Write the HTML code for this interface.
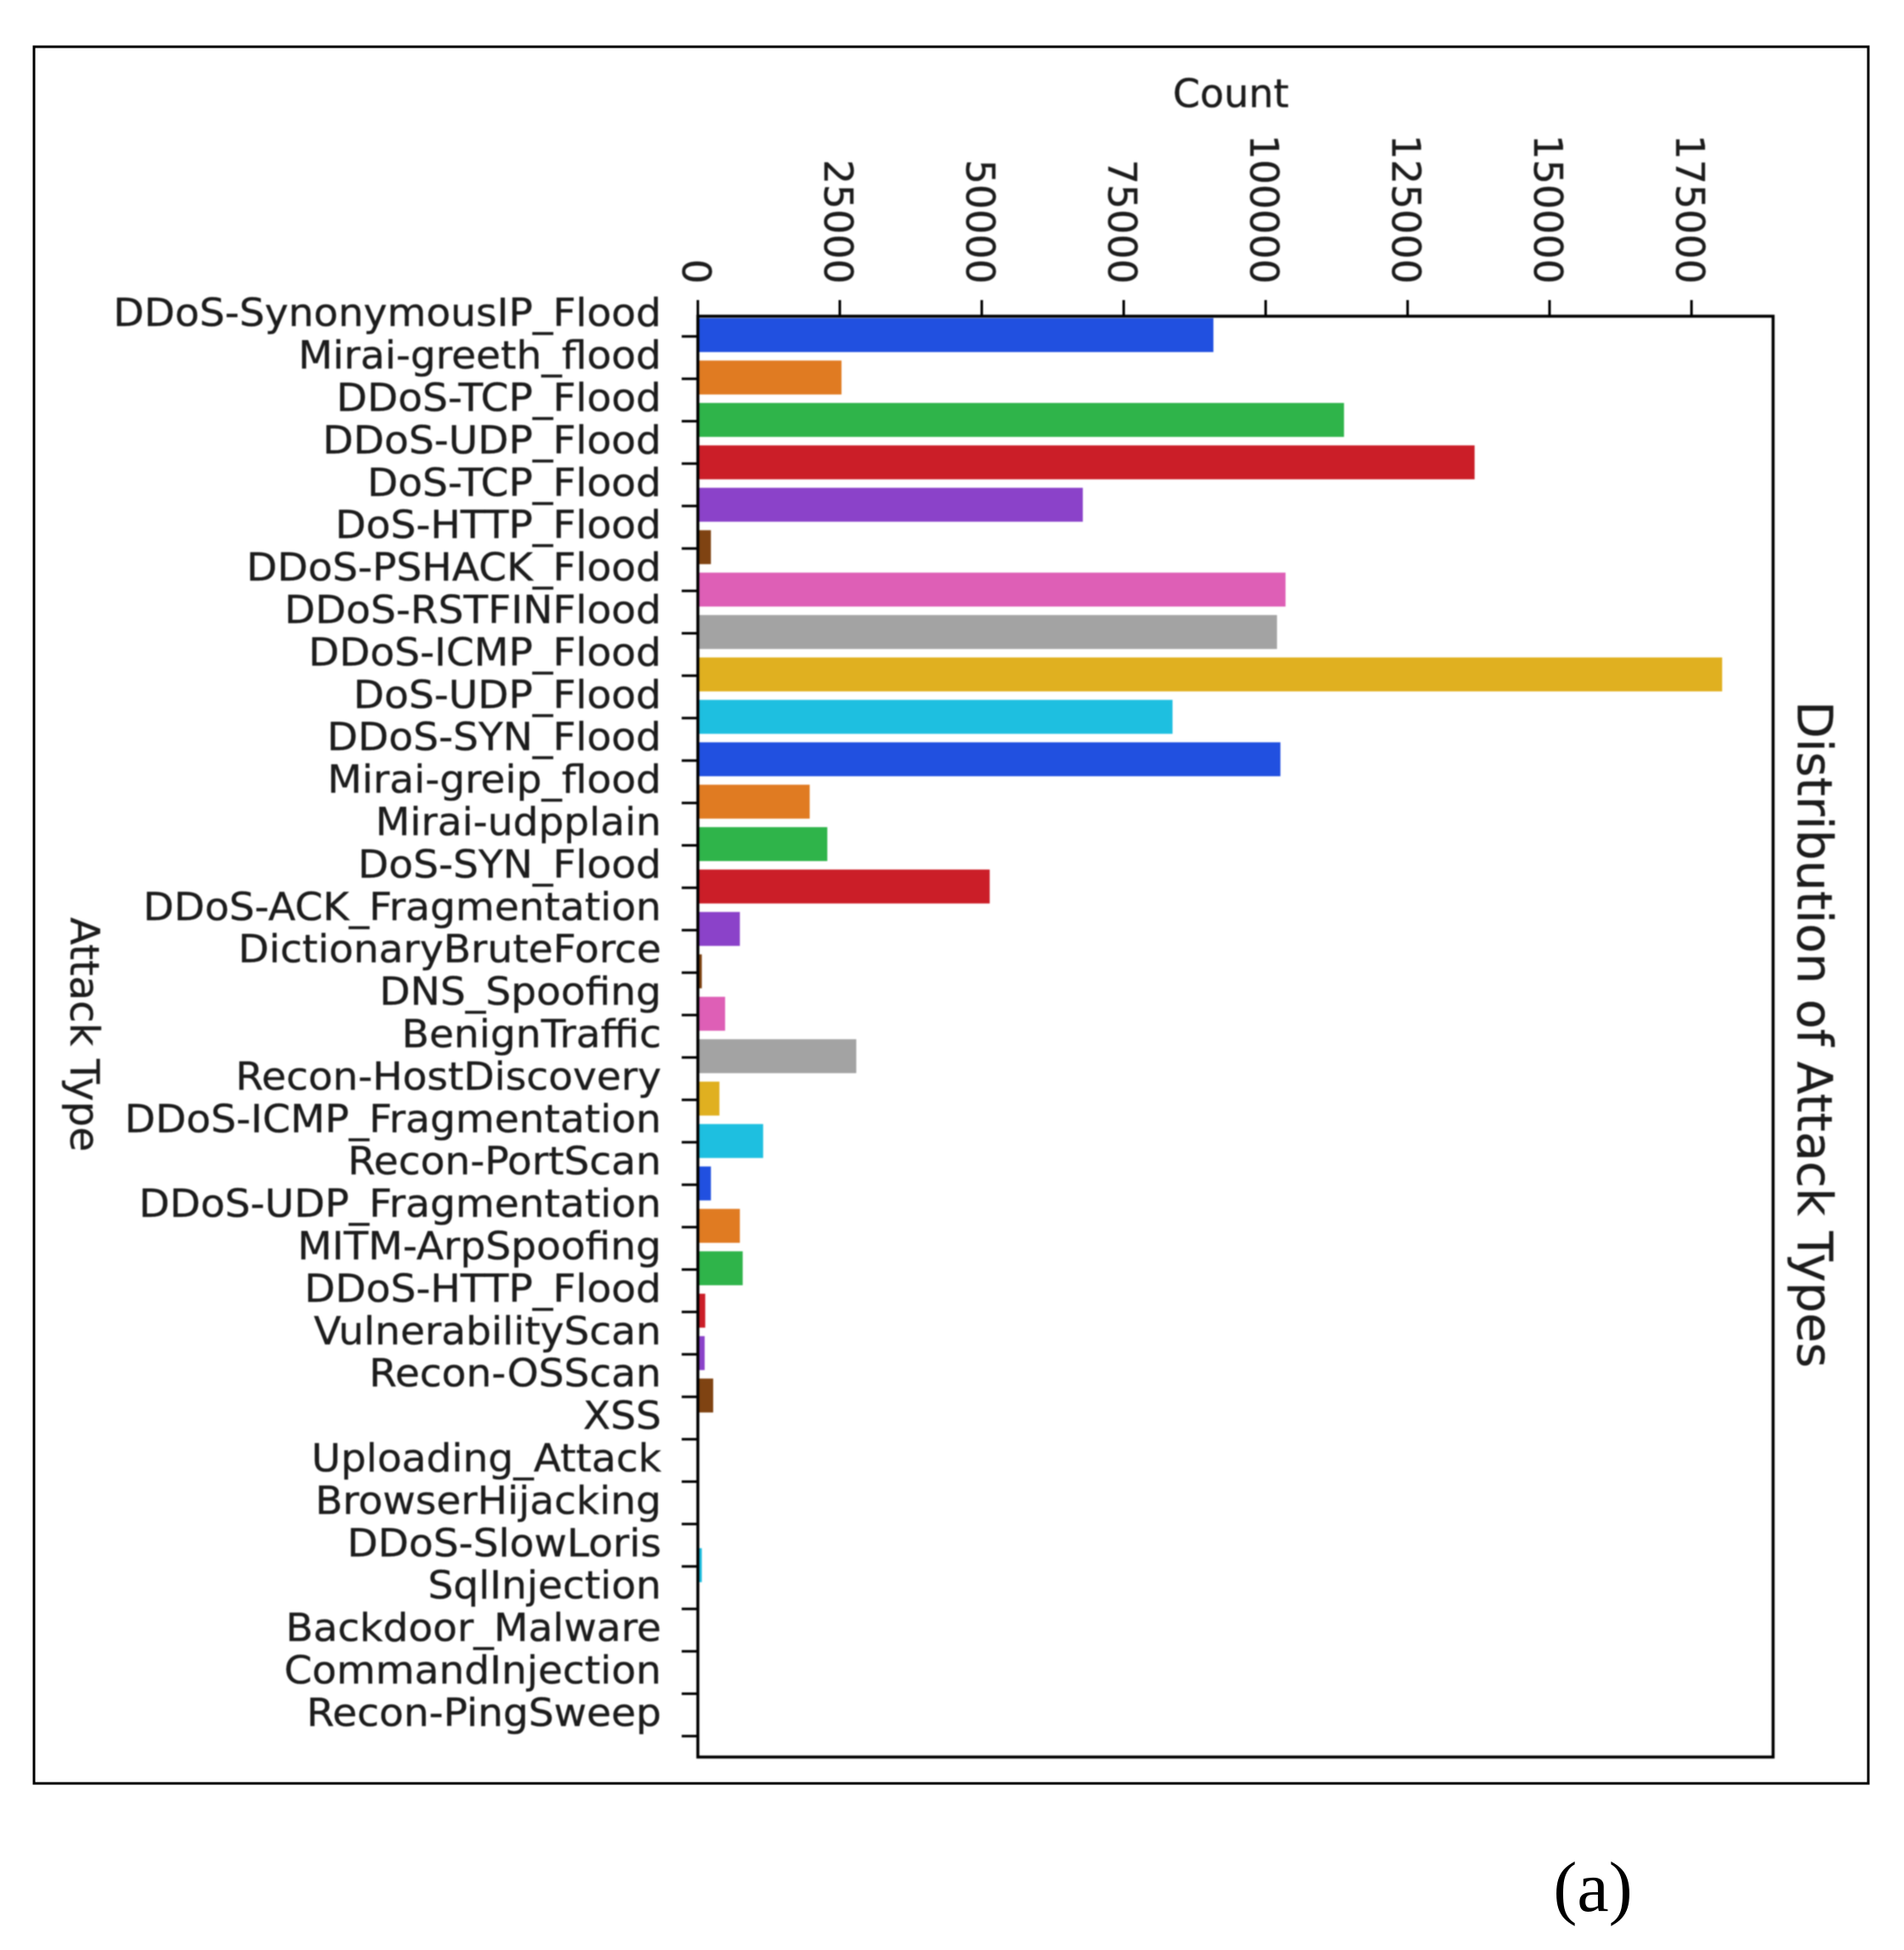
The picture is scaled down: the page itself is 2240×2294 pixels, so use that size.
<!DOCTYPE html>
<html lang="en">
<head>
<meta charset="utf-8">
<title>Distribution of Attack Types</title>
<style>
html,body{margin:0;padding:0;background:#fff}
svg{display:block}
text{font-family:"DejaVu Sans",sans-serif;fill:#1c1c1c;stroke:#1c1c1c;stroke-width:0.35px}
</style>
</head>
<body>
<svg id="chart" xmlns="http://www.w3.org/2000/svg" width="2240" height="2294" viewBox="0 0 2240 2294">
<rect x="0" y="0" width="2240" height="2294" fill="#fff"/>
<rect x="40" y="55" width="2158" height="2043" fill="none" stroke="#000" stroke-width="3"/>
<g id="plot" style="filter:blur(0.7px)"></g>
<text x="1874" y="2248" text-anchor="middle" style="font-family:'Liberation Serif',serif;font-size:84px;fill:#000;stroke:none">(a)</text>
</svg>
<script>
const categories = ["DDoS-SynonymousIP_Flood","Mirai-greeth_flood","DDoS-TCP_Flood","DDoS-UDP_Flood","DoS-TCP_Flood","DoS-HTTP_Flood","DDoS-PSHACK_Flood","DDoS-RSTFINFlood","DDoS-ICMP_Flood","DoS-UDP_Flood","DDoS-SYN_Flood","Mirai-greip_flood","Mirai-udpplain","DoS-SYN_Flood","DDoS-ACK_Fragmentation","DictionaryBruteForce","DNS_Spoofing","BenignTraffic","Recon-HostDiscovery","DDoS-ICMP_Fragmentation","Recon-PortScan","DDoS-UDP_Fragmentation","MITM-ArpSpoofing","DDoS-HTTP_Flood","VulnerabilityScan","Recon-OSScan","XSS","Uploading_Attack","BrowserHijacking","DDoS-SlowLoris","SqlInjection","Backdoor_Malware","CommandInjection","Recon-PingSweep"];
const counts = [90800,25300,113800,136800,67800,2300,103500,102000,180400,83600,102600,19700,22800,51400,7400,700,4800,27900,3800,11500,2300,7400,7900,1300,1200,2700,60,120,100,700,80,60,70,40];
const palette = ["#2150e0","#e07b22","#2fb44a","#cb1e28","#8b42c9","#7f4312","#de5fb6","#a3a3a3","#e0b020","#1ebfe0"];
const xTickValues = [0,25000,50000,75000,100000,125000,150000,175000];
const xTitle = "Count";
const yTitle = "Attack Type";
const chartTitle = "Distribution of Attack Types";

const NS = "http://www.w3.org/2000/svg";
const plot = document.getElementById("plot");
const axes = {left:821, right:2086, top:372, bottom:2067};
const xPerUnit = 167 / 25000;
const firstTickY = 395.7;
const bandStep = 49.9;
const barShift = -1.5;
const xScale = v => axes.left + v * xPerUnit;
const yScale = i => firstTickY + i * bandStep;

function make(tag, attrs, parent) {
  const el = document.createElementNS(NS, tag);
  for (const k in attrs) el.setAttribute(k, attrs[k]);
  (parent || plot).appendChild(el);
  return el;
}

counts.forEach((v, i) => {
  const h = bandStep * 0.8;
  const cy = yScale(i) + barShift;
  const top = Math.max(axes.top, cy - h / 2);
  const bar = make("rect", {x: axes.left, y: top, width: xScale(v) - axes.left, height: cy + h / 2 - top, fill: palette[i % palette.length]});
  
  
});

const frame = make("rect", {x: axes.left, y: axes.top, width: axes.right - axes.left, height: axes.bottom - axes.top, fill: "none", stroke: "#000", "stroke-width": 3.5});



xTickValues.forEach(v => {
  const x = xScale(v);
  const tick = make("line", {x1: x, x2: x, y1: axes.top - 19, y2: axes.top, stroke: "#000", "stroke-width": 3});
  
  
  const label = make("text", {transform: `translate(${x - 18},334) rotate(90)`, "text-anchor": "end", style: "font-size:46px"});
  label.textContent = String(v);
  
  
});

categories.forEach((c, i) => {
  const y = yScale(i);
  const tick = make("line", {x1: axes.left - 19, x2: axes.left, y1: y, y2: y, stroke: "#000", "stroke-width": 3});
  
  
  const label = make("text", {transform: `translate(778,${y - 12}) scale(1,0.97)`, "text-anchor": "end", style: "font-size:47.1px"});
  label.textContent = c;
  
  
});

const xLabel = make("text", {x: 1448, y: 126, "text-anchor": "middle", style: "font-size:46px"});
xLabel.textContent = xTitle;



const yLabel = make("text", {transform: "translate(83,1217) rotate(90)", "text-anchor": "middle", style: "font-size:47.5px"});
yLabel.textContent = yTitle;



const title = make("text", {transform: "translate(2115,1217) rotate(90)", "text-anchor": "middle", style: "font-size:57px"});
title.textContent = chartTitle;


</script>
</body>
</html>
